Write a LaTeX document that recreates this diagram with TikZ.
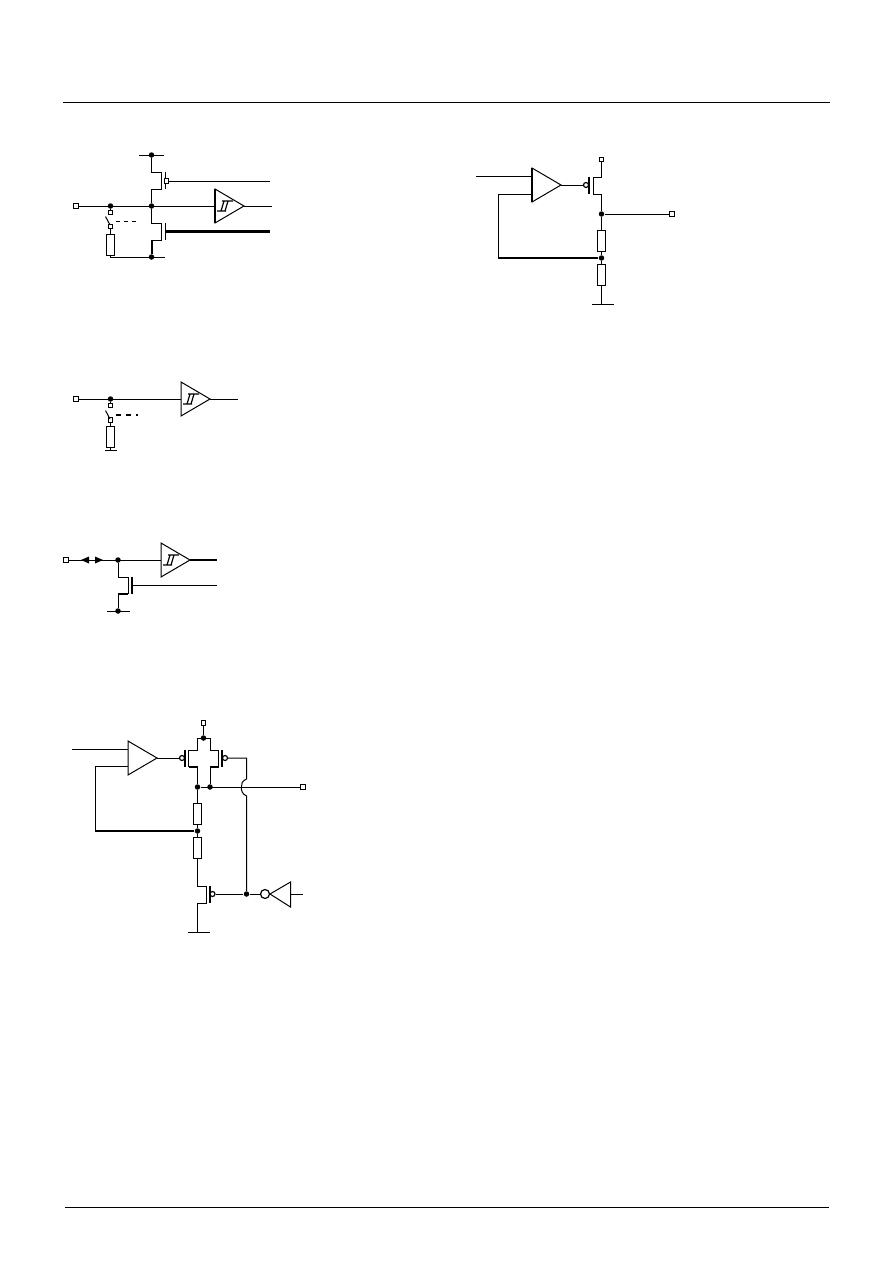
\documentclass[tikz,border=0pt]{standalone}
\usetikzlibrary{arrows.meta}
\tikzset{
  wire/.style={line width=1pt},
  bus/.style={line width=2.4pt},
  jdot/.style={circle, fill=black, inner sep=0pt, minimum size=5.5pt},
  term/.style={rectangle, draw, line width=1.2pt, fill=white, inner sep=0pt, minimum size=4.5pt},
  bubble/.style={circle, draw, line width=1.2pt, fill=white, inner sep=0pt, minimum size=5pt},
  res/.style={rectangle, draw, wire, fill=white, inner sep=0pt, minimum width=8pt, minimum height=21pt},
  pics/ampl/.style={code={
    \coordinate (-in) at (0,0);
    \coordinate (-tip) at (29,0);
    \draw[wire] (0,-17) -- (29,0) -- (0,17) -- cycle;
  }},
  pics/hyst/.style={code={
    \draw[line width=1.2pt] (2,5) -- (11,5) (7,-5) -- (18,-5) (6,5) -- (9,-5) (10,5) -- (13,-5);
  }}
}
\begin{document}
\begin{tikzpicture}[x=1pt, y=-1pt, wire, line cap=butt, line join=miter]
  \useasboundingbox (0,0) rectangle (892,1263);
  % Page rules
  \draw (63,102) -- (830,102);
  \draw (65,1207) -- (829,1207);

  % Top left circuit
  \coordinate (vl) at (139,155);
  \coordinate (vr) at (164,155);
  \coordinate (gl) at (165,257);
  \node[term] (ta) at (76,206) {};
  \node[jdot] (ja) at (110.5,206) {};
  \node[jdot] (jb) at (151.5,206) {};
  \node[jdot] (jc) at (151.5,155) {};
  \node[jdot] (jd) at (151.5,257) {};
  \node[res] (ra) at (110.5,244.5) {};
  \pic (ba) at (215,206) {ampl};
  \pic at (215,206) {hyst};
  \draw (vl) -- (vr);
  \draw (gl) -| (ra);
  \draw (jc) |- (161,172) -- (161,189) -| (jb);
  \draw (jb) |- (161,223) -- (161,240) -- (151.5,240);
  \draw[line width=2pt] (151.5,240) -- (jd);
  \draw (165,172) -- (165,189);
  \draw (165,223) -- (165,240);
  \node[term] (tb) at (166.5,181) {};
  \draw (tb) -- (270,181);
  \draw[bus] (165,231.5) -- (270,231.5);
  \draw (ta) -- (ba-in);
  \draw (ba-tip) -- (272,206);
  \draw[line width=2pt] (215,189) -- (215,223);
  % switch
  \node[term] (sa) at (110.5,212.5) {};
  \node[term] (sb) at (110.5,226.5) {};
  \draw (ja) -- (sa);
  \draw (sb) -- (ra);
  \draw (105.5,216.5) -- (110,225);
  \draw[dash pattern=on 4pt off 4pt] (116,221) -- (138,221);

  % Top right circuit
  \pic (bb) at (532,185) {ampl};
  \node[term] (tc) at (601.5,159.5) {};
  \node[term] (td) at (672,214) {};
  \node[jdot] (je) at (601.5,214) {};
  \node[jdot] (jf) at (601.5,258) {};
  \node[res] (rb) at (601.5,241) {};
  \node[res] (rc) at (601.5,275) {};
  \node[bubble] (bc) at (586,185) {};
  \coordinate (gr) at (601.5,304);
  \draw (bb-tip) -- (bc);
  \draw (476,176.5) -- (532,176.5);
  \draw (498,258) |- (532,194);
  \draw[bus] (498,258) -- (jf);
  \draw[line width=2pt] (532,168) -- (532,202);
  \draw[line width=1.6pt] (589,177) -- (589,194);
  \draw (tc) |- (593,177) -- (593,194) -| (je);
  \draw (je) -- (td);
  \draw (je) -- (rb) -- (jf) -- (rc) -- (gr);
  \draw (592,304) -- (614,304);

  % Second circuit on the left
  \node[term] (te) at (76,399) {};
  \node[jdot] (jg) at (110.5,399) {};
  \node[res] (rd) at (110.5,437) {};
  \pic (bd) at (181,399) {ampl};
  \pic at (181,399) {hyst};
  \draw (te) -- (bd-in);
  \draw (bd-tip) -- (238,399);
  \node[term] (sc) at (110.5,405.5) {};
  \node[term] (sd) at (110.5,420) {};
  \draw (jg) -- (sc);
  \draw (sd) -- (rd);
  \draw (105.5,410.5) -- (110,419);
  \draw[line width=2pt, dash pattern=on 5pt off 5pt] (116,414.5) -- (138,414.5);
  \draw (rd) -- (110.5,450);
  \draw (105,450) -- (117,450);

  % Third circuit on the left
  \node[term] (tf) at (66,560) {};
  \node[jdot] (jh) at (118,560) {};
  \node[jdot] (ji) at (118,611) {};
  \pic (be) at (161,560) {ampl};
  \pic at (161,560) {hyst};
  \draw (tf) -- (be-in);
  \draw[bus] (be-tip) -- (217,560);
  \fill (81,560) -- (89,556.5) -- (89,563.5) -- cycle;
  \fill (103,560) -- (95,556.5) -- (95,563.5) -- cycle;
  \draw (jh) |- (128,577) -- (128,594);
  \draw[line width=2pt] (128,594) -- (117.5,594);
  \draw (118,594) -- (ji);
  \draw[line width=1.4pt] (132,577) -- (132,594);
  \draw (132,585) -- (217,585);
  \draw (107,611) -- (130,611);

  % Bottom circuit
  \pic (bf) at (128,758) {ampl};
  \node[term] (tg) at (203.5,723) {};
  \node[term] (th) at (303,787) {};
  \node[jdot] (jj) at (203.5,738) {};
  \node[jdot] (jk) at (197.5,787) {};
  \node[jdot] (jl) at (210,787) {};
  \node[jdot] (jm) at (197.5,831) {};
  \node[jdot] (jn) at (246.5,894) {};
  \node[res] (re) at (197.5,813.5) {};
  \node[res] (rf) at (197.5,848) {};
  \node[bubble] (bg) at (182,758) {};
  \node[bubble] (bh) at (225,758) {};
  \node[bubble] (bi) at (212.5,894) {};
  \node[bubble, minimum size=9pt] (bj) at (265,894) {};
  \coordinate (gs) at (197.5,932);
  \draw (72,749) -- (128,749);
  \draw (95,831) |- (128,766.5);
  \draw[bus] (95,831) -- (jm);
  \draw (bf-tip) -- (bg);
  \draw (tg) -- (jj);
  \draw (197.5,750) -- (197.5,738) -- (210,738) -- (210,750);
  \draw (197.5,750) -- (188.5,750) -- (188.5,767);
  \draw (210,750) -- (218.5,750) -- (218.5,767);
  \draw[line width=1.8pt] (188.5,767) -- (197.5,767);
  \draw[line width=1.8pt] (218.5,767) -- (210,767);
  \draw (197.5,767) -- (jk);
  \draw (210,767) -- (jl);
  \draw[line width=1.4pt] (185,750) -- (185,767);
  \draw[line width=1.4pt] (222,750) -- (222,767);
  \draw (jk) -- (th);
  \draw (bh) -| (246.5,779) .. controls (242,781) and (241,784) .. (241.5,787)
        .. controls (241,790) and (242,794) .. (246.5,796) -- (jn);
  \draw (jk) -- (re) -- (jm) -- (rf) -- (197.5,886) -- (206,886) -- (206,903) -- (197.5,903) -- (gs);
  \draw (188,932) -- (210,932);
  \draw[line width=1.8pt] (210,886) -- (210,903);
  \draw (bi) -- (jn) -- (bj);
  \draw (270,894) -- (290.5,882) -- (290.5,907) -- cycle;
  \draw (290.5,894) -- (303,894);
\end{tikzpicture}
\end{document}
